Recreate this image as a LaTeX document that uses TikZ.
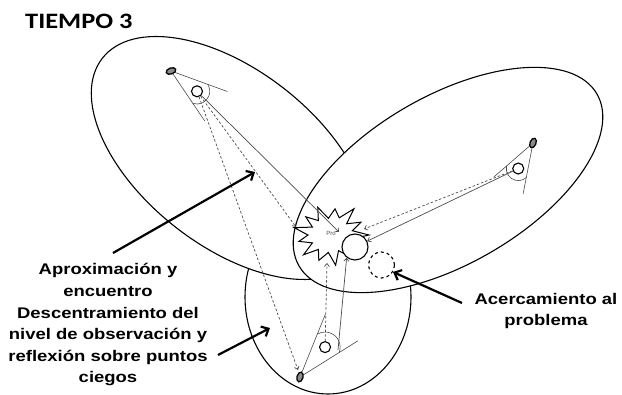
\documentclass[tikz,border=0pt]{standalone}
\usepackage{fontspec}
\setmainfont{Liberation Sans}
\newfontfamily\lblfont[FakeStretch=1.2]{Liberation Sans}
\newfontfamily\ttlfont[FakeStretch=1.2]{Carlito}
\usetikzlibrary{arrows.meta}

\tikzset{
  region/.style={draw,line width=1.1pt,fill=white},
  sightline/.style={draw=black!70,line width=0.6pt},
  eyeball/.style={draw,line width=1.3pt,fill=black!45},
  headball/.style={draw,circle,line width=1.1pt,fill=white,inner sep=0pt,minimum size=11pt},
  linkline/.style={draw=black!70,line width=0.7pt,-{Straight Barb[length=3pt,width=5pt]}},
  linkdash/.style={linkline,dash pattern=on 2.5pt off 2pt},
  pointer/.style={line width=2.2pt,-{Straight Barb[length=6pt,width=11pt]}},
  lbl/.style={font=\lblfont\bfseries\fontsize{15.4}{21.6}\selectfont,align=center,inner sep=0pt},
}

% #1 apex, #2 view angle, #3 half opening, #4 length, #5 head distance, #6 eye tilt, #7 name
\newcommand\observer[7]{%
  \begin{scope}[shift={#1},rotate=#2]
    \pgfmathsetmacro\obsh{#5*sin(#3)}
    \pgfmathsetmacro\obsr{1.25*\obsh}
    \pgfmathsetmacro\obst{#5*cos(#3)+0.75*\obsh}
    \pgfmathsetmacro\obsb{atan2(\obst*sin(#3),\obst*cos(#3)-#5)}
    \draw[sightline] (#3:#4) -- (0,0) -- (-#3:#4);
    \draw[sightline] (-#3:\obst) arc[start angle=-\obsb,end angle=\obsb,radius=\obsr];
    \node[headball] (#7) at (#5,0) {};
  \end{scope}
  \draw[eyeball,rotate around={#6:#1}] #1 ellipse[x radius=5,y radius=3];
}

\begin{document}
\begin{tikzpicture}[x=1pt,y=1pt]
  \useasboundingbox (0,0) rectangle (622,395);
  \draw[region] (328,98) ellipse[x radius=83,y radius=97];
  \draw[region,rotate around={-38:(230,237)}] (230,237) ellipse[x radius=162,y radius=88];
  \draw[region,rotate around={30:(448,215)}] (448,215) ellipse[x radius=172,y radius=84];

  \observer{(171,324)}{-38}{18}{60}{33}{20}{o1}
  \observer{(533,252)}{240}{19}{52}{29.5}{68}{o2}
  \observer{(300,18)}{50}{18}{68}{39}{75}{o3}

  \begin{scope}[shift={(331,160)},yscale=0.8]
    \draw[region,line width=1pt] (0:38)
      \foreach \a/\r in {14/22,28/34,42/21,55/40,69/23,83/33,97/21,111/37,125/22,138/34,152/21,
        166/38,180/23,194/33,208/21,222/37,235/22,249/34,263/22,277/38,291/21,305/33,318/22,332/36,346/21}
      { -- (\a:\r) } -- cycle;
  \end{scope}
  \node[inner sep=0pt,font=\fontsize{6}{6}\selectfont,text=black!70] (pro) at (331,162) {Pro};
  \node[region,circle,inner sep=0pt,minimum size=26pt] (prob) at (355,148) {};
  \node[draw,circle,dashed,line width=1.1pt,inner sep=0pt,minimum size=26pt] (near) at (381.5,130) {};

  \coordinate (proC) at (339,163);
  \coordinate (proW) at (296,168);
  \coordinate (proE) at (364,166);
  \coordinate (proS) at (327,132);
  \coordinate (e3) at (298,25);
  \coordinate (o3r) at (338,45);
  \draw[linkline] (o1) -- (proC);
  \draw[linkdash] (o1) -- (proW);
  \draw[linkdash] (o1) -- (e3);
  \draw[linkline] (o2) -- (prob);
  \draw[linkdash] (o2) -- (proE);
  \draw[linkline] (o3r) -- (prob.-128);
  \draw[linkdash] (o3) -- (proS);

  \node[anchor=base west,inner sep=0pt,font=\ttlfont\bfseries\fontsize{22}{26}\selectfont] (title) at (25,366) {TIEMPO 3};
  \node[lbl,anchor=base] (lbl1) at (108,12) {Aproximación y\\encuentro\\Descentramiento del\\nivel de observación y\\reflexión sobre puntos\\ciegos};
  \node[lbl,anchor=base] (lbl2) at (546,69) {Acercamiento al\\problema};

  \coordinate (a1) at (113,142);
  \coordinate (t1) at (255,223);
  \coordinate (a2) at (218,40);
  \coordinate (t2) at (270,67);
  \coordinate (a3) at (462,92);
  \coordinate (t3) at (393,123);
  \draw[pointer] (a1) -- (t1);
  \draw[pointer] (a2) -- (t2);
  \draw[pointer] (a3) -- (t3);
\end{tikzpicture}
\end{document}
